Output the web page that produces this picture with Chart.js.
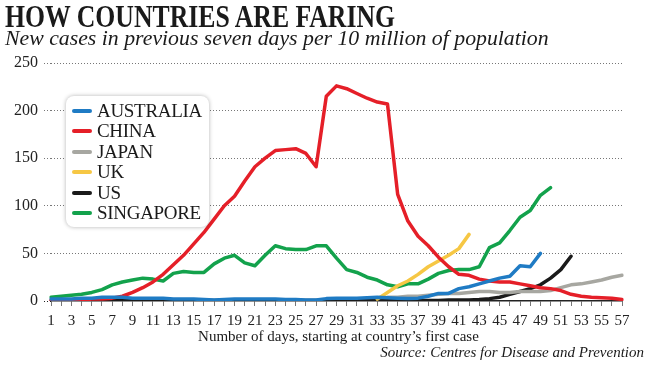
<!DOCTYPE html>
<html lang="en">
<head>
<meta charset="UTF-8">
<script src="https://cdn.jsdelivr.net/npm/chart.js@4.4.0/dist/chart.umd.min.js"></script>
<style>
    body{
        margin: 0;
        padding: 0;
        background: #fff;
        width: 650px;
        height: 366px;
        overflow: hidden;
        position: relative;
        font-family: 'Liberation Serif', serif;
        color: #1a1a1a;
    }
    .title{
        position: absolute;
        left: 5px;
        top: 1px;
        font-size: 31px;
        line-height: 31px;
        font-weight: bold;
        white-space: nowrap;
        transform: scaleX(0.83);
        transform-origin: left top;
    }
    .sub{
        position: absolute;
        left: 5px;
        top: 25px;
        font-size: 22px;
        line-height: 26px;
        font-style: italic;
        white-space: nowrap;
        transform: scaleX(0.99);
        transform-origin: left top;
    }
    #wrap{
        position: absolute;
        left: 0;
        top: 0;
        width: 650px;
        height: 366px;
    }
    .legend{
        position: absolute;
        left: 66px;
        top: 96px;
        width: 143px;
        height: 131px;
        background: #fff;
        border-radius: 8px;
        box-shadow: 0 0 4px rgba(0,0,0,0.3);
    }
    .item{
        position: absolute;
        left: 0;
        height: 20px;
        width: 143px;
    }
    .sw{
        position: absolute;
        left: 6px;
        top: 8px;
        width: 20px;
        height: 4px;
        border-radius: 2px;
    }
    .lab{
        position: absolute;
        left: 31px;
        top: 0;
        font-size: 19px;
        line-height: 20px;
        letter-spacing: -0.3px;
        white-space: nowrap;
    }
    .xtitle{
        position: absolute;
        left: 0;
        width: 677px;
        text-align: center;
        top: 327px;
        font-size: 15px;
        line-height: 18px;
    }
    .source{
        position: absolute;
        right: 6px;
        top: 343px;
        font-size: 15px;
        line-height: 18px;
        font-style: italic;
        white-space: nowrap;
    }
</style>
<title>How countries are faring</title>
</head>
<body>
<div id="wrap"><canvas id="chart" width="650" height="366"></canvas></div>
<div class="title">HOW COUNTRIES ARE FARING</div>
<div class="sub">New cases in previous seven days per 10 million of population</div>
<div class="legend" id="legend"></div>
<div class="xtitle">Number of days, starting at country’s first case</div>
<div class="source">Source: Centres for Disease and Prevention</div>
<script>
// days since first case
const days = Array.from({length: 57}, (_, i) => i + 1);
const yTicks = [0, 50, 100, 150, 200, 250];

const australia = [2,2,2,3,3,4,4,4,3,3, 3,3,2,2,2,1.5,1,1.5,2,2, 2,2,2,1.5,1.5,1,1,2.5,3,3,
    3,3.5,4,3.5,3,2.5,3,5,8,8, 13,15,18,21,24,26,37,36,50];
const china = [1,1,1,1,2,2,3,5,9,14, 20,28,38,48,60,72,86,100,110,126, 141,150,158,159,160,155,141,215,226,223,
    218,213,209,207,112,84,68,58,46,36, 28,27,23,21,20,20,18,16,14,13, 11,7,5,4,3.5,3,1.5];
const japan = [null,null,null,null,null,null,null,null,null,null, null,null,null,null,null,null,null,null,null,null,
    null,null,null,null,null,null,null,null,null,null, null,null,null,4,4,5,5,6,7,8,
    8,9,10,10,9,9,10,10,10,11, 14,17,18,20,22,25,27];
const uk = [null,null,null,null,null,null,null,null,null,null, null,null,null,null,null,null,null,null,null,null,
    null,null,null,null,null,null,null,null,null,null, null,null,2,9,16,21,28,36,42,48, 55,70];
const us = [0,0,0.5,1,1,1.5,1.5,1,0.5,0.5, 0.5,0.5,0.5,0.5,0.5,0.5,0.5,0.5,0.5,0.5, 0.5,0.5,0.5,0.5,0.5,0.5,0.5,0.5,0.5,0.5,
    0.5,0.5,0.5,0.5,0.5,0.5,0.5,0.5,0.5,1, 1,1,1.5,2.5,4,7,10,13,17,24, 33,47];
const singapore = [4,5,6,7,9,12,17,20,22,24, 23,21,29,31,30,30,39,45,48,40, 37,48,58,55,54,54,58,58,45,33,
    30,25,22,17,15,18,18,23,29,32, 33,33,36,56,61,74,88,95,111,119];

const names = ['AUSTRALIA', 'CHINA', 'JAPAN', 'UK', 'US', 'SINGAPORE'];
const colors = ['#1f7bc4', '#e51f28', '#a7a7a1', '#f6c744', '#1a1a1a', '#13a24c'];
const series = [australia, china, japan, uk, us, singapore];

const datasets = series.map((d, i) => ({
    label: names[i],
    data: d,
    borderColor: colors[i],
    borderWidth: 3.5,
    pointRadius: 0,
    tension: 0,
    borderJoinStyle: 'round',
    borderCapStyle: 'round',
    fill: false
}));

// legend box
const leg = document.getElementById('legend');
names.forEach((n, i) => {
    const row = document.createElement('div');
    row.className = 'item';
    row.style.top = (5 + i * 20.4) + 'px';
    row.innerHTML = '<div class="sw" style="background:' + colors[i] + '"></div><div class="lab">' + n + '</div>';
    leg.appendChild(row);
});

const ctx = document.getElementById('chart').getContext('2d');
new Chart(ctx, {
    type: 'line',
    data: { labels: days, datasets: datasets },
    options: {
        responsive: false,
        animation: false,
        events: [],
        layout: { padding: { left: 0, right: 28, top: 63, bottom: 35 } },
        plugins: { legend: { display: false }, tooltip: { enabled: false } },
        scales: {
            x: {
                type: 'category',
                afterFit: (s) => { s.height = 30; },
                grid: { drawOnChartArea: false, drawTicks: true, tickLength: 5, color: '#777', lineWidth: 1 },
                border: { display: true, color: '#222', width: 1.5 },
                ticks: {
                    autoSkip: false,
                    maxRotation: 0,
                    padding: 6,
                    color: '#222',
                    font: { family: 'Liberation Serif', size: 15 },
                    callback: function (v, i) { return days[i] % 2 === 1 ? String(days[i]) : ''; }
                }
            },
            y: {
                min: yTicks[0],
                max: yTicks[yTicks.length - 1],
                afterFit: (s) => { s.width = 51; },
                afterBuildTicks: (s) => { s.ticks = yTicks.map(v => ({ value: v })); },
                grid: {
                    color: (c) => c.tick && c.tick.value === 0 ? 'rgba(0,0,0,0)' : '#777',
                    tickColor: (c) => c.tick && c.tick.value === 0 ? '#222' : '#777',
                    lineWidth: 1,
                    tickLength: 7,
                    tickBorderDash: [1, 2]
                },
                border: { display: false, dash: [1, 2] },
                ticks: {
                    padding: 6,
                    color: '#222',
                    font: { family: 'Liberation Serif', size: 16 }
                }
            }
        }
    }
});
</script>
</body>
</html>
